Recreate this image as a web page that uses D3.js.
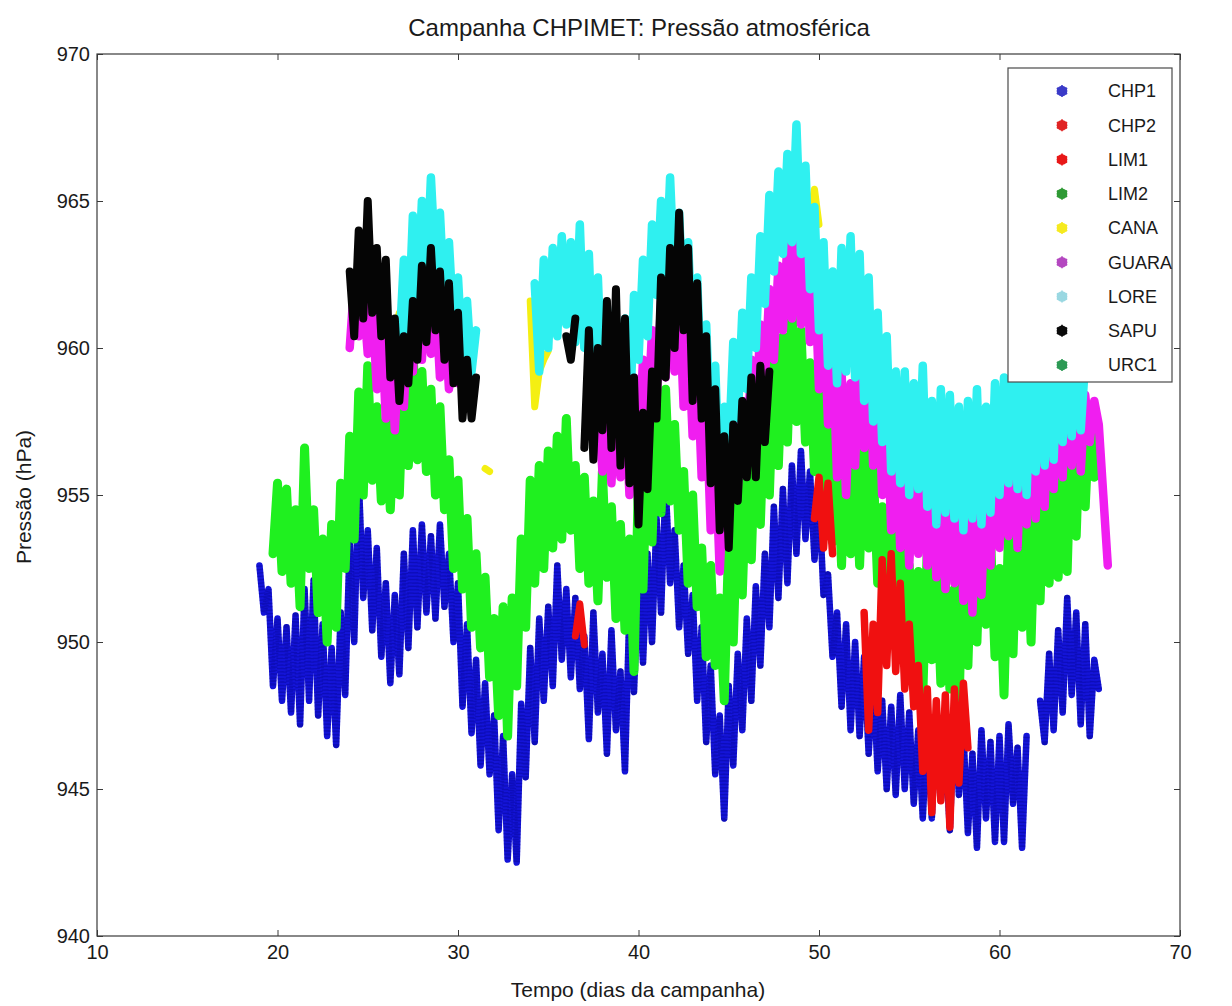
<!DOCTYPE html>
<html><head><meta charset="utf-8">
<script src="https://cdn.jsdelivr.net/npm/d3@7"></script>
<style>
body{margin:0;background:#fff}
svg{display:block}
text{font-family:"Liberation Sans",Arial,Helvetica,sans-serif;fill:#1a1a1a}
</style>
</head><body>
<svg id="chart" width="1232" height="1006"></svg>
<script>
// ---------------- DATA ----------------
const titleText = "Campanha CHPIMET: Pressão atmosférica";
const xLabelText = "Tempo (dias da campanha)";
const yLabelText = "Pressão (hPa)";
const xTicks = [10, 20, 30, 40, 50, 60, 70];
const yTicks = [940, 945, 950, 955, 960, 965, 970];
const seriesNames = ["CHP1", "CHP2", "LIM1", "LIM2", "CANA", "GUARA", "LORE", "SAPU", "URC1"];
const sampleStep = 0.25; // days between successive readings (semi-diurnal extremes)

// CHP1
const chp1Starts = [19.0, 62.25];
const chp1Values = [[
  952.6, 951.0, 951.8, 948.5,
  950.8, 948.0, 950.5, 947.6,
  950.9, 947.2, 951.8, 948.0,
  952.1, 947.5, 950.6, 946.8,
  949.8, 946.5, 951.0, 948.2,
  953.4, 950.0, 955.6, 951.5,
  953.8, 950.4, 953.2, 949.5,
  952.0, 948.6, 951.6, 948.9,
  953.0, 949.8, 953.8, 950.5,
  954.0, 951.0, 953.6, 950.8,
  954.0, 951.2, 953.0, 950.0,
  952.0, 947.8, 950.6, 946.9,
  949.4, 945.8, 948.6, 945.5,
  947.5, 943.6, 946.8, 942.6,
  945.5, 942.5, 947.9, 945.4,
  949.8, 946.6, 950.8, 948.0,
  951.2, 948.5, 952.6, 949.4,
  951.8, 948.8, 951.5, 948.4,
  950.2, 946.7, 951.0, 947.6,
  949.6, 946.2, 950.4, 947.0,
  949.0, 945.6, 951.2, 948.3,
  952.2, 949.3, 953.0, 950.0,
  954.2, 951.0, 955.4, 952.0,
  953.8, 950.5, 952.6, 949.6,
  951.6, 948.0, 950.5, 946.6,
  949.2, 945.5, 947.5, 944.0,
  948.5, 945.8, 949.6, 947.0,
  950.8, 948.0, 951.9, 949.2,
  953.0, 950.5, 954.6, 951.5,
  955.2, 952.0, 956.0, 953.0,
  956.5, 953.5, 955.8, 952.8,
  955.0, 951.6, 952.3, 949.5,
  951.0, 947.8, 950.6, 947.0,
  950.0, 946.8, 949.5, 946.2,
  948.8, 945.6, 948.0, 945.0,
  947.8, 944.8, 948.2, 945.0,
  947.6, 944.5, 947.0, 944.0,
  947.0, 944.0, 947.4, 944.6,
  946.4, 943.6, 947.5, 944.8,
  946.9, 943.5, 946.2, 943.0,
  947.0, 944.0, 946.6, 943.2,
  946.8, 943.2, 947.2, 944.5,
  946.4, 943.0, 946.8
], [
  948.0, 946.6, 949.6,
  947.0, 950.4, 947.6, 951.5,
  948.2, 951.0, 947.2, 950.6,
  946.8, 949.4, 948.4
]];

// CHP2
const chp2Starts = [36.5];
const chp2Values = [[950.2, 951.3, 949.9]];

// LIM1
const lim1Starts = [49.75, 52.5];
const lim1Values = [
  [954.2, 955.6, 953.2, 955.4, 953.0],
  [951.0, 947.0, 950.6, 947.6,
   952.8, 949.2, 953.0, 949.0,
   952.0, 948.4, 950.6, 947.8,
   949.2, 945.6, 948.4, 944.2,
   948.0, 944.6, 948.2, 943.7,
   948.4, 945.2, 948.6, 946.4]
];

// LIM2
const lim2Starts = [19.75];
const lim2Values = [[
  953.0,
  955.4, 952.4, 955.2, 952.0,
  954.5, 951.2, 956.6, 952.5,
  954.5, 951.0, 953.5, 950.0,
  954.0, 950.5, 955.4, 952.5,
  957.0, 953.5, 958.5, 955.0,
  959.4, 955.5, 958.0, 954.8,
  957.5, 954.5, 958.0, 955.0,
  959.5, 956.0, 960.0, 956.2,
  959.2, 955.8, 958.6, 955.0,
  958.0, 954.5, 956.2, 952.5,
  955.5, 951.8, 954.2, 950.5,
  953.0, 949.8, 952.2, 948.8,
  950.8, 947.5, 951.2, 946.8,
  951.5, 948.5, 953.5, 950.5,
  955.5, 952.0, 956.0, 952.5,
  956.5, 953.2, 957.0, 953.5,
  957.6, 953.8, 956.0, 952.5,
  955.6, 952.0, 954.8, 951.4,
  955.8, 952.2, 954.6, 950.8,
  954.0, 950.4, 953.5, 949.0,
  955.6, 951.8, 957.0, 953.4,
  958.0, 954.4, 958.6, 954.8,
  957.4, 953.8, 955.8, 952.0,
  955.0, 951.2, 953.2, 949.5,
  952.6, 949.2, 951.5, 948.0,
  953.5, 950.0, 955.0, 951.6,
  956.2, 952.8, 957.6, 954.0,
  958.4, 955.0, 959.6, 956.0,
  960.4, 956.8, 961.4, 957.5,
  960.6, 956.8, 959.5, 955.8,
  958.6, 955.0, 957.2, 953.4,
  956.4, 952.6, 957.2, 953.0,
  956.2, 952.6, 957.0, 953.2,
  956.0, 952.0, 954.6, 950.4,
  955.0, 950.8, 953.8, 949.5,
  952.6, 948.8, 952.4, 948.2,
  953.2, 949.4, 952.6, 948.6,
  952.2, 948.4, 951.8, 947.6,
  953.8, 949.2, 954.4, 950.0,
  954.6, 950.6, 953.6, 949.5,
  952.5, 948.2, 953.8, 949.6,
  954.8, 950.5, 954.2, 950.0,
  955.2, 951.4, 956.2, 952.0,
  956.6, 952.2, 955.8, 952.4,
  957.8, 953.6, 958.4, 954.6,
  958.0, 955.6
]];

// CANA
const canaStarts = [26.5, 28.25, 31.5, 34.0, 35.25, 36.75, 39.75, 49.5];
const canaValues = [
  [960.6, 961.2],
  [961.8, 961.2],
  [955.9, 955.8],
  [961.6, 958.0, 959.2, 959.6, 959.9],
  [961.6, 961.3],
  [960.8, 960.6],
  [958.2, 957.9],
  [964.6, 965.4, 964.2]
];

// GUARA
const guaraStarts = [24.0, 37.75];
const guaraValues = [[
  960.0, 962.2, 960.4, 961.8,
  959.8, 961.6, 958.6, 961.0,
  957.6, 960.4, 957.2, 960.2,
  958.0, 961.0, 959.2, 962.2,
  959.6, 962.4, 959.8, 961.8,
  959.0, 961.2, 958.6, 960.2,
  958.8, 959.6
], [
  958.5,
  955.8, 958.8, 955.4, 958.4,
  955.6, 958.6, 955.0, 959.0,
  956.4, 959.6, 957.4, 960.6,
  958.2, 961.6, 959.0, 962.4,
  959.2, 961.8, 958.0, 960.6,
  957.0, 959.6, 955.6, 958.2,
  953.8, 956.6, 952.4, 955.6,
  954.2, 957.4, 955.2, 958.2,
  956.4, 959.6, 957.4, 960.8,
  958.8, 962.0, 959.6, 962.8,
  960.6, 963.6, 961.0, 964.4,
  960.8, 963.8, 960.2, 963.0,
  958.6, 961.6, 957.4, 960.4,
  955.6, 959.2, 955.0, 958.8,
  956.0, 960.2, 956.6, 960.6,
  956.0, 959.6, 955.0, 958.2,
  953.8, 957.4, 953.2, 956.8,
  952.6, 956.4, 953.0, 956.8,
  952.6, 956.4, 952.2, 956.0,
  951.8, 955.6, 952.0, 955.8,
  951.4, 955.4, 951.0, 954.8,
  951.6, 955.6, 952.6, 956.8,
  953.2, 957.0, 953.6, 957.6,
  953.2, 957.2, 954.0, 958.0,
  954.2, 958.2, 954.6, 958.8,
  955.2, 959.0, 955.6, 959.6,
  956.0, 959.6, 955.8, 958.4,
  956.8, 958.2, 957.4, 955.0,
  952.6
]];

// LORE
const loreStarts = [26.75, 34.25];
const loreValues = [[
  960.0, 963.0, 960.6, 964.5, 961.5,
  965.0, 962.2, 965.8, 962.8,
  964.6, 961.5, 963.6, 960.8,
  962.4, 959.6, 961.6, 959.2,
  960.6
], [
  962.2, 959.2, 963.0,
  960.0, 963.4, 960.4, 963.8,
  960.8, 963.6, 960.2, 964.2,
  960.0, 963.2, 959.0, 962.4,
  958.2, 961.4, 957.5, 960.6,
  957.2, 961.0, 957.0, 961.8,
  959.6, 963.0, 960.4, 964.2,
  961.8, 965.0, 962.0, 965.8,
  962.2, 964.6, 961.0, 963.6,
  959.8, 962.4, 958.2, 960.8,
  956.8, 959.4, 955.2, 958.0,
  956.5, 960.2, 957.6, 961.2,
  958.6, 962.4, 960.0, 963.8,
  961.5, 965.2, 962.6, 966.0,
  963.2, 966.6, 963.6, 967.6,
  963.2, 966.2, 962.0, 964.8,
  960.6, 963.6, 959.4, 962.6,
  958.8, 963.4, 959.2, 963.8,
  959.0, 963.2, 958.2, 962.4,
  957.5, 961.2, 956.8, 960.4,
  955.8, 959.2, 955.4, 959.2,
  955.0, 958.8, 955.2, 959.4,
  954.6, 958.2, 954.0, 958.6,
  954.4, 958.4, 954.2, 958.0,
  953.8, 958.2, 954.2, 958.6,
  954.0, 958.0, 954.4, 958.8,
  955.0, 959.0, 955.4, 959.4,
  955.2, 959.2, 955.0, 959.6,
  955.8, 959.8, 956.0, 960.0,
  956.2, 960.2, 956.8, 960.4,
  957.0, 960.0, 957.2, 959.6
]];

// SAPU
const sapuStarts = [24.0, 36.0, 37.0];
const sapuValues = [[
  962.6, 960.4, 964.0, 961.0,
  965.0, 961.2, 963.4, 960.4,
  963.0, 959.0, 961.0, 958.2,
  960.4, 958.8, 961.6, 959.6,
  962.8, 960.2, 963.4, 960.6,
  962.6, 959.6, 962.2, 958.8,
  961.2, 957.6, 959.6, 957.6,
  959.0
], [
  960.4, 959.6, 961.0
], [
  956.6, 960.6, 956.2, 960.0,
  957.2, 961.6, 956.6, 962.0,
  956.0, 961.0, 955.4, 959.0,
  954.0, 957.8, 955.2, 959.2,
  957.6, 962.4, 959.0, 963.4,
  960.0, 964.6, 960.6, 963.4,
  958.2, 962.2, 957.6, 960.4,
  955.4, 958.6, 953.8, 957.0,
  953.2, 957.4, 954.8, 958.2,
  955.6, 959.0, 955.6, 959.4,
  956.8, 959.2
]];

// URC1 (listed in legend, no visible readings)
const urc1Starts = [];
const urc1Values = [];

// ---------------- STYLE ----------------
const lineColors = {
  CHP1: "#1414d8", CHP2: "#f01010", LIM1: "#f01010", LIM2: "#1ff01f",
  CANA: "#f4ef12", GUARA: "#f01ef0", LORE: "#2ff0f0", SAPU: "#050505", URC1: "#1ff01f"
};
const legendColors = {
  CHP1: "#3b3bc8", CHP2: "#e02424", LIM1: "#e81818", LIM2: "#2f9a35",
  CANA: "#f6ea20", GUARA: "#b448c0", LORE: "#9ad8e2", SAPU: "#0a0a0a", URC1: "#2d9a55"
};
const lineWidths = {CHP1: 6.5, CHP2: 7, LIM1: 7.5, LIM2: 9, CANA: 7, GUARA: 8.5, LORE: 8.5, SAPU: 8, URC1: 8};
const drawOrder = ["CHP1", "LIM2", "CANA", "GUARA", "LORE", "SAPU", "URC1", "CHP2", "LIM1"];

const seriesTable = {
  CHP1: [chp1Starts, chp1Values], CHP2: [chp2Starts, chp2Values], LIM1: [lim1Starts, lim1Values],
  LIM2: [lim2Starts, lim2Values], CANA: [canaStarts, canaValues], GUARA: [guaraStarts, guaraValues],
  LORE: [loreStarts, loreValues], SAPU: [sapuStarts, sapuValues], URC1: [urc1Starts, urc1Values]
};

// ---------------- CHART ----------------
const svg = d3.select("#chart");
const plot = {left: 97, top: 54, right: 1180, bottom: 936};
const x = d3.scaleLinear().domain([10, 70]).range([plot.left, plot.right]);
const y = d3.scaleLinear().domain([940, 970]).range([plot.bottom, plot.top]);

svg.append("rect").attr("width", 1232).attr("height", 1006).attr("fill", "#fff");

svg.append("defs").append("clipPath").attr("id", "pc")
  .append("rect").attr("x", plot.left).attr("y", plot.top)
  .attr("width", plot.right - plot.left).attr("height", plot.bottom - plot.top);

const gData = svg.append("g").attr("clip-path", "url(#pc)");
const line = d3.line().x(d => x(d.t)).y(d => y(d.v));

drawOrder.forEach(name => {
  const [starts, values] = seriesTable[name];
  starts.forEach((s, k) => {
    const pts = values[k].map((v, i) => ({t: s + i * sampleStep, v}));
    gData.append("path").datum(pts)
      .attr("d", line)
      .attr("fill", "none")
      .attr("stroke", lineColors[name])
      .attr("stroke-width", lineWidths[name])
      .attr("stroke-linejoin", "round")
      .attr("stroke-linecap", "round");
    if (name === "CHP1") {
      gData.append("path").datum(pts)
        .attr("d", line).attr("fill", "none")
        .attr("stroke", "#000080").attr("stroke-opacity", 0.35)
        .attr("stroke-width", lineWidths[name])
        .attr("stroke-dasharray", "1.2 2.2")
        .attr("stroke-linejoin", "round");
    }
  });
});

// axes
const axisColor = "#3a3a3a";
const tickFont = "20px";
function styleAxis(g) {
  g.select(".domain").remove();
  g.selectAll(".tick line").attr("stroke", axisColor);
  g.selectAll(".tick text").attr("fill", "#1a1a1a").style("font-size", tickFont)
    .style("font-family", '"Liberation Sans", Arial, sans-serif');
}
svg.append("g").attr("transform", `translate(0,${plot.bottom})`)
  .call(d3.axisBottom(x).tickValues(xTicks).tickFormat(d3.format("d")).tickSizeInner(-6).tickSizeOuter(0).tickPadding(9))
  .call(styleAxis);
svg.append("g").attr("transform", `translate(0,${plot.top})`)
  .call(d3.axisTop(x).tickValues(xTicks).tickFormat("").tickSizeInner(-6).tickSizeOuter(0))
  .call(styleAxis);
svg.append("g").attr("transform", `translate(${plot.left},0)`)
  .call(d3.axisLeft(y).tickValues(yTicks).tickFormat(d3.format("d")).tickSizeInner(-6).tickSizeOuter(0).tickPadding(7))
  .call(styleAxis);
svg.append("g").attr("transform", `translate(${plot.right},0)`)
  .call(d3.axisRight(y).tickValues(yTicks).tickFormat("").tickSizeInner(-6).tickSizeOuter(0))
  .call(styleAxis);

svg.append("rect").attr("x", plot.left).attr("y", plot.top)
  .attr("width", plot.right - plot.left).attr("height", plot.bottom - plot.top)
  .attr("fill", "none").attr("stroke", axisColor).attr("stroke-width", 1.2);

// titles
svg.append("text").attr("x", 639).attr("y", 36).attr("text-anchor", "middle")
  .style("font-size", "24px").text(titleText);
svg.append("text").attr("x", 638).attr("y", 997).attr("text-anchor", "middle")
  .style("font-size", "21px").text(xLabelText);
svg.append("text").attr("transform", "translate(31,497) rotate(-90)").attr("text-anchor", "middle")
  .style("font-size", "21px").text(yLabelText);

// legend
const lg = svg.append("g");
lg.append("rect").attr("x", 1008).attr("y", 68).attr("width", 164).attr("height", 314)
  .attr("fill", "#fff").attr("stroke", "#4a4a4a").attr("stroke-width", 1.2);
const ly = d3.scalePoint().domain(seriesNames).range([91, 365]);
seriesNames.forEach(name => {
  const cy = ly(name);
  lg.append("path").attr("transform", `translate(1062,${cy})`)
    .attr("d", d3.symbol(d3.symbolCircle, 90)()).attr("fill", legendColors[name]);
  lg.append("path").attr("transform", `translate(1062,${cy})`)
    .attr("d", d3.symbol(d3.symbolAsterisk, 100)()).attr("stroke", legendColors[name]).attr("stroke-width", 1.6);
  lg.append("text").attr("x", 1108).attr("y", cy).attr("dy", "0.36em")
    .style("font-size", "18px").text(name);
});
</script>
</body></html>
